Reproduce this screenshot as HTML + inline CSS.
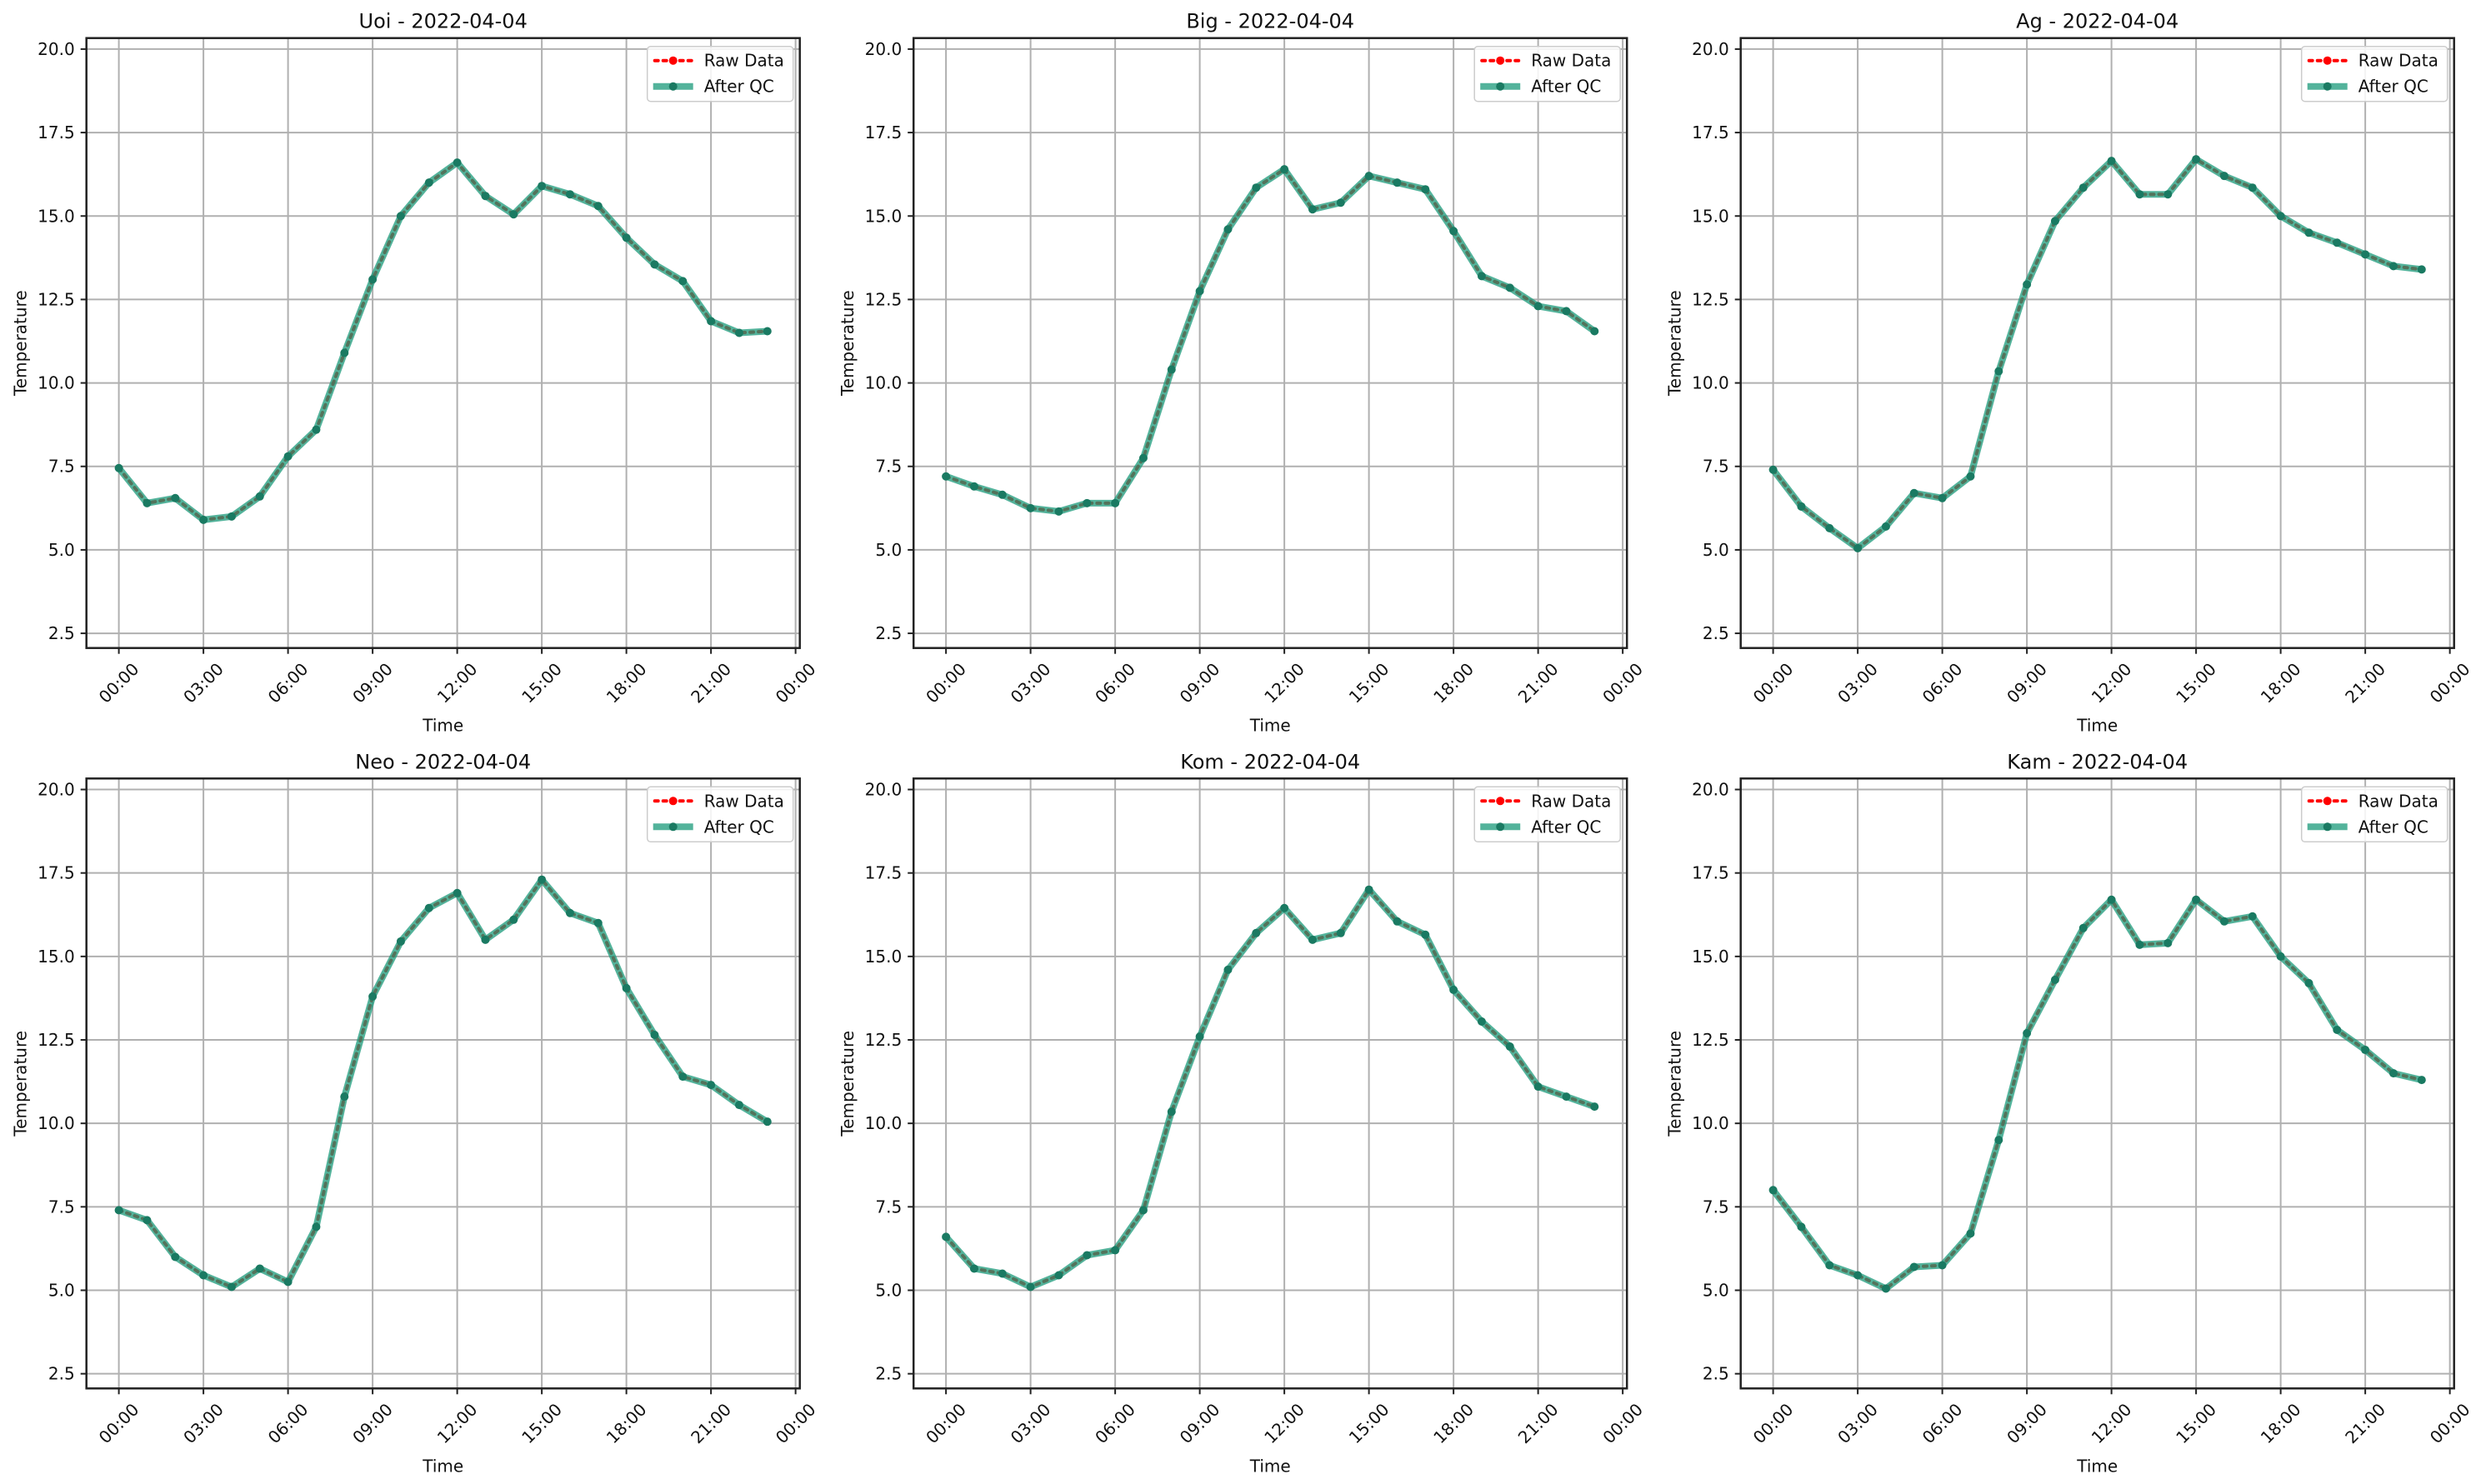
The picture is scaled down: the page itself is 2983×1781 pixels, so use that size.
<!DOCTYPE html>
<html><head><meta charset="utf-8">
<style>
html,body{margin:0;padding:0;background:#fff;}
svg{display:block;font-family:"DejaVu Sans","Liberation Sans",sans-serif;}
</style></head>
<body>
<svg id="fig" width="2983" height="1781" viewBox="0 0 2983 1781" xmlns="http://www.w3.org/2000/svg"></svg>
<script>
const stations = ["Uoi","Big","Ag","Neo","Kom","Kam"];
const dateLabel = "2022-04-04";
const hours = [0,1,2,3,4,5,6,7,8,9,10,11,12,13,14,15,16,17,18,19,20,21,22,23];
const uoiTemps = [7.45,6.4,6.55,5.9,6.0,6.6,7.8,8.6,10.9,13.1,15.0,16.0,16.6,15.6,15.05,15.9,15.65,15.3,14.35,13.55,13.05,11.85,11.5,11.55];
const bigTemps = [7.2,6.9,6.65,6.25,6.15,6.4,6.4,7.75,10.4,12.75,14.6,15.85,16.4,15.2,15.4,16.2,16.0,15.8,14.55,13.2,12.85,12.3,12.15,11.55];
const agTemps = [7.4,6.3,5.65,5.05,5.7,6.7,6.55,7.2,10.35,12.95,14.85,15.85,16.65,15.65,15.65,16.7,16.2,15.85,15.0,14.5,14.2,13.85,13.5,13.4];
const neoTemps = [7.4,7.1,6.0,5.45,5.1,5.65,5.25,6.9,10.8,13.8,15.45,16.45,16.9,15.5,16.1,17.3,16.3,16.0,14.05,12.65,11.4,11.15,10.55,10.05];
const komTemps = [6.6,5.65,5.5,5.1,5.45,6.05,6.2,7.4,10.35,12.6,14.6,15.7,16.45,15.5,15.7,17.0,16.05,15.65,14.0,13.05,12.3,11.1,10.8,10.5];
const kamTemps = [8.0,6.9,5.75,5.45,5.05,5.7,5.75,6.7,9.5,12.7,14.3,15.85,16.7,15.35,15.4,16.7,16.05,16.2,15.0,14.2,12.8,12.2,11.5,11.3];
const yTicks = [2.5,5.0,7.5,10.0,12.5,15.0,17.5,20.0];
const xTickHours = [0,3,6,9,12,15,18,21,24];
const xTickLabels = ["00:00","03:00","06:00","09:00","12:00","15:00","18:00","21:00","00:00"];

const allSeries = [uoiTemps,bigTemps,agTemps,neoTemps,komTemps,kamTemps];
const NS="http://www.w3.org/2000/svg";
const svg=document.getElementById('fig');
function mk(tag,attrs,parent){const e=document.createElementNS(NS,tag);for(const k in attrs)e.setAttribute(k,attrs[k]);(parent||svg).appendChild(e);return e;}

const colX=[103.7,1096.2,2088.7], rowY=[45.7,934.3];
const W=856, H=732;
const xMin=-1.15,xMax=24.15,yMin=2.06,yMax=20.33;

stations.forEach((name,i)=>{
  const L=colX[i%3], T=rowY[Math.floor(i/3)];
  const sx=h=>L+(h-xMin)/(xMax-xMin)*W;
  const sy=v=>T+H-(v-yMin)/(yMax-yMin)*H;
  const g=mk('g',{});
  
  
  xTickHours.forEach(h=>{const l=mk('line',{x1:sx(h),x2:sx(h),y1:T,y2:T+H,stroke:'#b0b0b0','stroke-width':2},g);
    });
  yTicks.forEach(v=>{const l=mk('line',{x1:L,x2:L+W,y1:sy(v),y2:sy(v),stroke:'#b0b0b0','stroke-width':2},g);
    });
  const vals=allSeries[i];
  const pts=hours.map((h,k)=>sx(h)+','+sy(vals[k])).join(' ');
  const raw=mk('polyline',{points:pts,fill:'none',stroke:'#ff0000','stroke-width':4,'stroke-dasharray':'4 6','stroke-linecap':'round'},g);
  
  hours.forEach((h,k)=>{const c=mk('circle',{cx:sx(h),cy:sy(vals[k]),r:4,fill:'#ff0000'},g);
    });
  const qc=mk('polyline',{points:pts,fill:'none',stroke:'#1a9a7a','stroke-opacity':0.75,'stroke-width':8,'stroke-linejoin':'round'},g);
  
  hours.forEach((h,k)=>{const c=mk('circle',{cx:sx(h),cy:sy(vals[k]),r:5,fill:'#1a7a62'},g);
    });
  const fr=mk('rect',{x:L,y:T,width:W,height:H,fill:'none',stroke:'#222','stroke-width':2.5},g);
  
  yTicks.forEach(v=>{
    mk('line',{x1:L-7,x2:L,y1:sy(v),y2:sy(v),stroke:'#222','stroke-width':2},g);
    const t=mk('text',{x:L-14,y:sy(v),'text-anchor':'end','dominant-baseline':'central','font-size':20,fill:'#111'},g);
    t.textContent=v.toFixed(1);
    
  });
  xTickHours.forEach((h,k)=>{
    mk('line',{x1:sx(h),x2:sx(h),y1:T+H,y2:T+H+7,stroke:'#222','stroke-width':2},g);
    const cx=sx(h), cy=T+H+42;
    const t=mk('text',{x:cx,y:cy,'text-anchor':'middle','dominant-baseline':'central','font-size':20,fill:'#111',transform:`rotate(-45 ${cx} ${cy})`},g);
    t.textContent=xTickLabels[k];
    
  });
  const tt=mk('text',{x:L+W/2,y:T-12,'text-anchor':'middle','font-size':24,fill:'#111'},g);
  tt.textContent=name+' - '+dateLabel;
  
  const xl=mk('text',{x:L+W/2,y:T+H+100,'text-anchor':'middle','font-size':20,fill:'#111'},g);
  xl.textContent='Time';
  
  const yx=L-72, yy=T+H/2;
  const yl=mk('text',{x:yx,y:yy,'text-anchor':'middle','font-size':20,fill:'#111',transform:`rotate(-90 ${yx} ${yy})`},g);
  yl.textContent='Temperature';
  
  const lg=mk('g',{},g);
  
  const lx=L+W-183, ly=T+10;
  mk('rect',{x:lx,y:ly,width:175,height:66,rx:4,fill:'#fff','fill-opacity':0.85,stroke:'#ccc','stroke-width':1.5},lg);
  const e1=mk('g',{},lg);
  mk('line',{x1:lx+9,x2:lx+53,y1:ly+17,y2:ly+17,stroke:'#ff0000','stroke-width':4,'stroke-dasharray':'4 6','stroke-linecap':'round'},e1);
  mk('circle',{cx:lx+31,cy:ly+17,r:5,fill:'#ff0000'},e1);
  const t1=mk('text',{x:lx+68,y:ly+17,'dominant-baseline':'central','font-size':20,fill:'#111'},e1);t1.textContent='Raw Data';
  const e2=mk('g',{},lg);
  mk('line',{x1:lx+7,x2:lx+55,y1:ly+48,y2:ly+48,stroke:'#1a9a7a','stroke-opacity':0.75,'stroke-width':8},e2);
  mk('circle',{cx:lx+31,cy:ly+48,r:5,fill:'#1a7a62'},e2);
  const t2=mk('text',{x:lx+68,y:ly+48,'dominant-baseline':'central','font-size':20,fill:'#111'},e2);t2.textContent='After QC';
});
</script>
</body></html>
